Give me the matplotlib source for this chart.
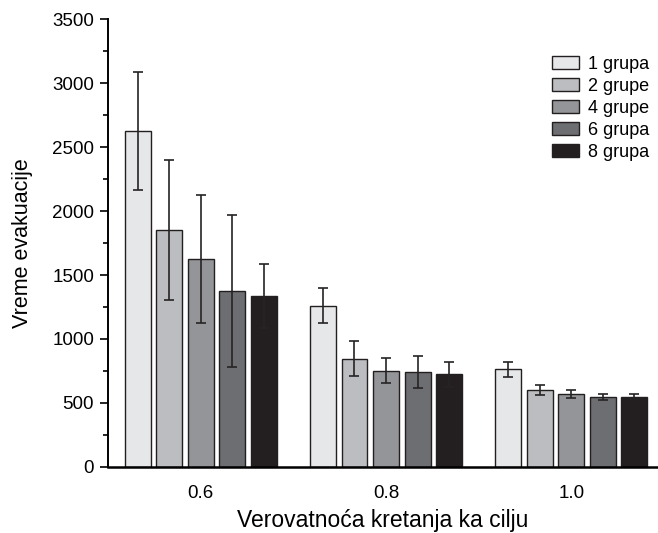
import numpy as np
import matplotlib
matplotlib.use("Agg")
from matplotlib import pyplot as plt

plt.rcParams['font.family'] = ['Liberation Sans', 'DejaVu Sans']

# probability of moving towards the goal
probs = ['0.6', '0.8', '1.0']
groups = ['1 grupa', '2 grupe', '4 grupe', '6 grupa', '8 grupa']

# mean evacuation time per group count, one list per series
g1 = [2625, 1260, 763]
g2 = [1852, 846, 602]
g4 = [1625, 753, 570]
g6 = [1375, 740, 549]
g8 = [1336, 724, 549]

# error (std) per series
e1 = [460, 135, 60]
e2 = [545, 135, 42]
e4 = [500, 100, 28]
e6 = [595, 125, 23]
e8 = [250, 96, 18]

colors = ['#e6e7e9', '#bcbdc0', '#939598', '#6d6e71', '#231f20']

means = [g1, g2, g4, g6, g8]
errs = [e1, e2, e4, e6, e8]

fig = plt.figure(figsize=(6.58, 5.33), dpi=100)
ax = fig.add_axes([0.164, 0.124, 0.834, 0.84])

x = np.arange(len(probs))
pitch = 0.17
width = 0.14
for i in range(len(groups)):
    pos = x + (i - 2) * pitch
    ax.bar(pos, means[i], width, color=colors[i], edgecolor='#231f20',
           linewidth=1.0, label=groups[i], zorder=2)
    ax.errorbar(pos, means[i], yerr=errs[i], fmt='none', ecolor='#262324',
                elinewidth=1.2, capsize=3.5, capthick=1.2, zorder=3)

ax.set_xlim(-0.50, 2.46)
ax.set_ylim(0, 3500)
ax.set_xticks(x)
ax.set_xticklabels(probs)
ax.set_yticks(np.arange(0, 3501, 500))
ax.set_yticks(np.arange(0, 3501, 250), minor=True)
ax.tick_params(axis='x', length=0, labelsize=13.5, pad=13)
ax.tick_params(axis='y', which='major', length=6, width=1.2, labelsize=13.5,
               direction='out', pad=4)
ax.tick_params(axis='y', which='minor', length=3.5, width=1.2, direction='out')

for s in ['top', 'right']:
    ax.spines[s].set_visible(False)
ax.spines['left'].set_linewidth(1.4)
ax.spines['bottom'].set_linewidth(1.8)

ax.set_xlabel('Verovatnoća kretanja ka cilju', fontsize=16.5, labelpad=5)
ax.set_ylabel('Vreme evakuacije', fontsize=15.5, labelpad=14)

ax.legend(loc='upper right', bbox_to_anchor=(1.0, 0.935), frameon=False,
          fontsize=13, handlelength=1.5, handleheight=0.75,
          labelspacing=0.28, handletextpad=0.5, borderaxespad=0.0)

fig.savefig('out.png', dpi=100)
